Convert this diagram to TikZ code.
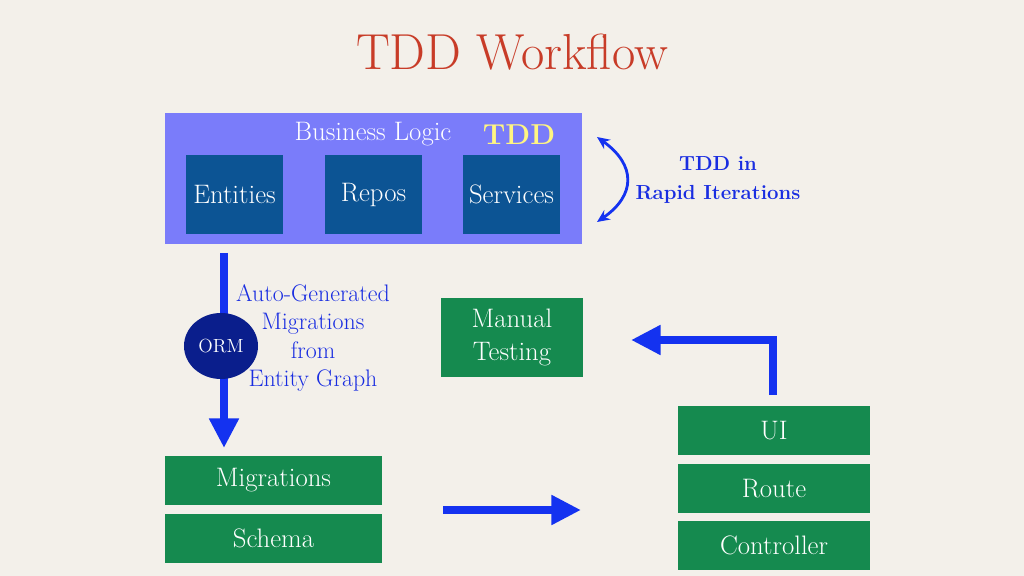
\documentclass[tikz,border=0pt]{standalone}
\usetikzlibrary{arrows.meta,shapes.geometric}

\definecolor{paper}{RGB}{243,240,234}
\definecolor{bizblue}{RGB}{122,124,250}
\definecolor{boxblue}{RGB}{12,84,148}
\definecolor{boxgreen}{RGB}{21,138,79}
\definecolor{arrowblue}{RGB}{20,50,240}
\definecolor{ormnavy}{RGB}{10,30,140}
\definecolor{textblue}{RGB}{25,45,225}
\definecolor{titlered}{RGB}{200,60,40}
\definecolor{tddyellow}{RGB}{255,245,130}

\begin{document}
\begin{tikzpicture}
  [x=0.025cm,y=-0.025cm,
   layerbox/.style={rectangle,fill=bizblue,minimum width=10.425cm,minimum height=3.275cm},
   logicbox/.style={rectangle,fill=boxblue,text=white,minimum width=2.425cm,minimum height=1.975cm,font=\fontsize{19}{22}\selectfont},
   stackbox/.style={rectangle,fill=boxgreen,text=white,minimum height=1.225cm,font=\fontsize{19}{22}\selectfont},
   bigarrow/.style={arrowblue,line width=6pt,-{Triangle[length=21pt,width=20pt]}},
   note/.style={textblue,align=center}]
  \fill[paper] (0,0) rectangle (1024,576);
  \useasboundingbox (0,0) rectangle (1024,576);

  \node[titlered,font=\fontsize{36}{40}\selectfont] (title) at (512,52) {TDD Workflow};

  \node[layerbox] (biz) at (373.5,178.5) {};
  \node[white,font=\fontsize{19}{22}\selectfont] (bizlabel) at (373,134) {Business Logic};
  \node[tddyellow,font=\fontsize{20.5}{24}\selectfont\bfseries] (tddlabel) at (519,135) {TDD};
  \node[logicbox] (ent) at (234.5,194.5) {Entities};
  \node[logicbox] (repo) at (373.5,194.5) {Repos};
  \node[logicbox] (serv) at (511.5,194.5) {Services};

  \coordinate (loopa) at (597,137);
  \coordinate (loopb) at (597,222);
  \draw[arrowblue,line width=2pt,{Stealth[length=9pt,width=8pt]}-{Stealth[length=9pt,width=8pt]}]
    (loopa) .. controls (636,165) and (636,195) .. (loopb);
  \node[note,font=\fontsize{14.5}{21}\selectfont\bfseries] (iterlabel) at (718,180) {TDD in\\Rapid Iterations};

  \coordinate (ormtop) at (224,253);
  \coordinate (ormbot) at (224,448);
  \draw[bigarrow] (ormtop) -- (ormbot);
  \node[ellipse,fill=ormnavy,text=white,minimum width=1.85cm,minimum height=1.65cm,inner sep=0pt,font=\fontsize{13.5}{15}\selectfont] (orm) at (221,346) {ORM};
  \node[note,font=\fontsize{17}{20}\selectfont] (ormlabel) at (313,338) {Auto-Generated\\Migrations\\from\\Entity Graph};

  \node[stackbox,minimum width=5.425cm] (mig) at (273.5,480.5) {Migrations};
  \node[stackbox,minimum width=5.425cm] (schema) at (273.5,538.5) {Schema};

  \coordinate (flowa) at (443,510);
  \coordinate (flowb) at (581,510);
  \draw[bigarrow] (flowa) -- (flowb);

  \node[stackbox,minimum width=4.8cm] (ui) at (774,430.5) {UI};
  \node[stackbox,minimum width=4.8cm] (route) at (774,488.5) {Route};
  \node[stackbox,minimum width=4.8cm] (ctrl) at (774,545.5) {Controller};

  \node[stackbox,minimum width=3.55cm,minimum height=1.975cm,align=center,font=\fontsize{19}{23}\selectfont] (manual) at (512,337.5) {Manual\\Testing};

  \coordinate (backa) at (773,395);
  \coordinate (backb) at (631,340);
  \draw[bigarrow,line join=miter] (backa) |- (backb);
\end{tikzpicture}
\end{document}
